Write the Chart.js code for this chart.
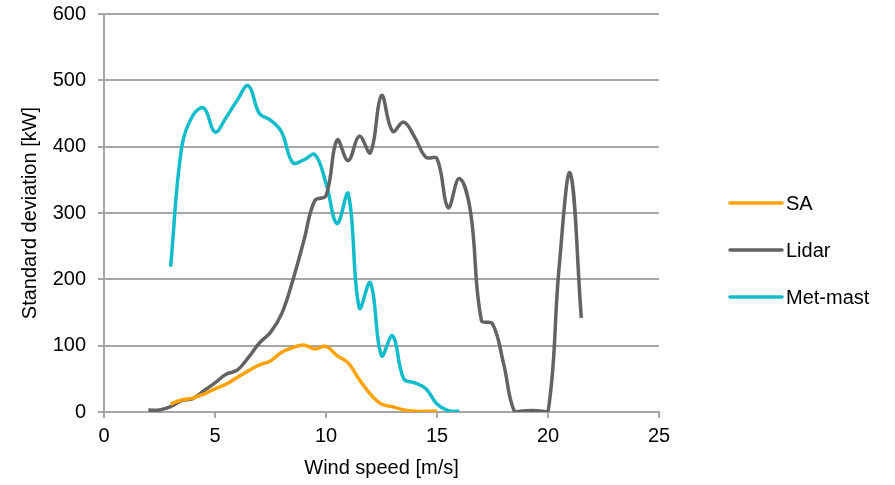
<!DOCTYPE html>
<html>
<head>
<meta charset="utf-8">
<script src="https://cdn.jsdelivr.net/npm/chart.js@4/dist/chart.umd.min.js"></script>
<style>
  html, body { margin: 0; padding: 0; background: #fff; }
  #wrap { width: 895px; height: 485px; }
</style>
</head>
<body>
<div id="wrap"><canvas id="chart"></canvas></div>
<script>
// Wind speed bins [m/s]
const saSpeed = [3, 3.5, 4, 4.5, 5, 5.5, 6, 6.5, 7, 7.5, 8, 8.5, 9, 9.5, 10, 10.5, 11, 11.5, 12, 12.5, 13, 13.5, 14, 14.5, 15];
const lidarSpeed = [2, 2.5, 3, 3.5, 4, 4.5, 5, 5.5, 6, 6.5, 7, 7.5, 8, 8.5, 9, 9.5, 10, 10.5, 11, 11.5, 12, 12.5, 13, 13.5, 14, 14.5, 15, 15.5, 16, 16.5, 17, 17.5, 18, 18.5, 19, 19.5, 20, 20.5, 21, 21.5];
const mastSpeed = [3, 3.5, 4, 4.5, 5, 5.5, 6, 6.5, 7, 7.5, 8, 8.5, 9, 9.5, 10, 10.5, 11, 11.5, 12, 12.5, 13, 13.5, 14, 14.5, 15, 15.5, 16];

// Standard deviation [kW]
const saStd = [12, 18, 21, 27, 35, 42, 52, 62, 71, 77, 90, 97, 101, 95, 99, 85, 74, 49, 27, 12, 8, 3, 1, 1, 1];
const lidarStd = [3, 3, 8, 17, 20, 32, 44, 57, 63, 82, 104, 120, 148, 198, 258, 319, 326, 410, 379, 416, 391, 477, 423, 437, 414, 384, 382, 308, 352, 304, 138, 133, 73, 0, 2, 2, 0, 218, 360, 142];
const mastStd = [219, 399, 447, 458, 422, 444, 470, 492, 450, 440, 422, 376, 380, 388, 345, 284, 329, 157, 195, 85, 115, 50, 44, 35, 12, 2, 1];

const seriesNames = ['SA', 'Lidar', 'Met-mast'];
const seriesColors = ['#FFA200', '#636363', '#12BCCB'];

const xTicks = [0, 5, 10, 15, 20, 25];
const yTicks = [0, 100, 200, 300, 400, 500, 600];

const FONT = "'Liberation Sans', Arial, sans-serif";
const gridColor = '#A6A6A6';
const LINE_W = 3.5;

function toPoints(xs, ys) {
    return xs.map((x, i) => ({ x: x, y: ys[i] }));
}

// Legend on the right, drawn as line + label
const sideLegend = {
    id: 'sideLegend',
    afterDraw(chart) {
        const ctx = chart.ctx;
        const rows = [203, 250, 297];
        ctx.save();
        chart.data.datasets.forEach((ds, i) => {
            const y = rows[i];
            ctx.strokeStyle = ds.borderColor;
            ctx.lineWidth = LINE_W;
            ctx.lineCap = 'round';
            ctx.beginPath();
            ctx.moveTo(730, y);
            ctx.lineTo(782, y);
            ctx.stroke();
            ctx.fillStyle = '#000';
            ctx.font = '20px ' + FONT;
            ctx.textBaseline = 'middle';
            ctx.textAlign = 'left';
            ctx.fillText(ds.label, 786, y + 1);
        });
        ctx.restore();
    }
};

new Chart(document.getElementById('chart'), {
    type: 'line',
    data: {
        datasets: [
            {
                label: seriesNames[0],
                data: toPoints(saSpeed, saStd),
                borderColor: seriesColors[0],
                backgroundColor: seriesColors[0],
                borderWidth: LINE_W,
                pointRadius: 0,
                tension: 0.4,
                fill: false
            },
            {
                label: seriesNames[1],
                data: toPoints(lidarSpeed, lidarStd),
                borderColor: seriesColors[1],
                backgroundColor: seriesColors[1],
                borderWidth: LINE_W,
                pointRadius: 0,
                tension: 0.4,
                fill: false
            },
            {
                label: seriesNames[2],
                data: toPoints(mastSpeed, mastStd),
                borderColor: seriesColors[2],
                backgroundColor: seriesColors[2],
                borderWidth: LINE_W,
                pointRadius: 0,
                tension: 0.4,
                fill: false
            }
        ]
    },
    options: {
        responsive: true,
        maintainAspectRatio: false,
        animation: false,
        layout: {
            padding: { top: 14, right: 236, bottom: 0, left: 0 }
        },
        plugins: {
            legend: { display: false },
            tooltip: { enabled: false }
        },
        scales: {
            x: {
                type: 'linear',
                min: 0,
                max: 25,
                afterBuildTicks: (axis) => { axis.ticks = xTicks.map(v => ({ value: v })); },
                grid: {
                    drawOnChartArea: false,
                    drawTicks: true,
                    tickLength: 6,
                    color: gridColor,
                    lineWidth: 2
                },
                border: { color: gridColor, width: 2 },
                ticks: {
                    color: '#000',
                    padding: 6,
                    font: { family: FONT, size: 20 }
                },
                title: {
                    display: true,
                    text: 'Wind speed [m/s]',
                    color: '#000',
                    font: { family: FONT, size: 20 },
                    padding: { top: 2, bottom: 5 }
                }
            },
            y: {
                min: 0,
                max: 600,
                afterBuildTicks: (axis) => { axis.ticks = yTicks.map(v => ({ value: v })); },
                afterFit: (axis) => {
                    axis.width = 104;
                    axis.paddingTop = 0;
                    axis.paddingBottom = 0;
                },
                grid: {
                    tickLength: 6,
                    color: gridColor,
                    lineWidth: 2
                },
                border: { color: gridColor, width: 2 },
                ticks: {
                    color: '#000',
                    padding: 12,
                    font: { family: FONT, size: 20 }
                },
                title: {
                    display: true,
                    text: 'Standard deviation [kW]',
                    color: '#000',
                    font: { family: FONT, size: 20 },
                    padding: { top: 18, bottom: 4 }
                }
            }
        }
    },
    plugins: [sideLegend]
});
</script>
</body>
</html>
